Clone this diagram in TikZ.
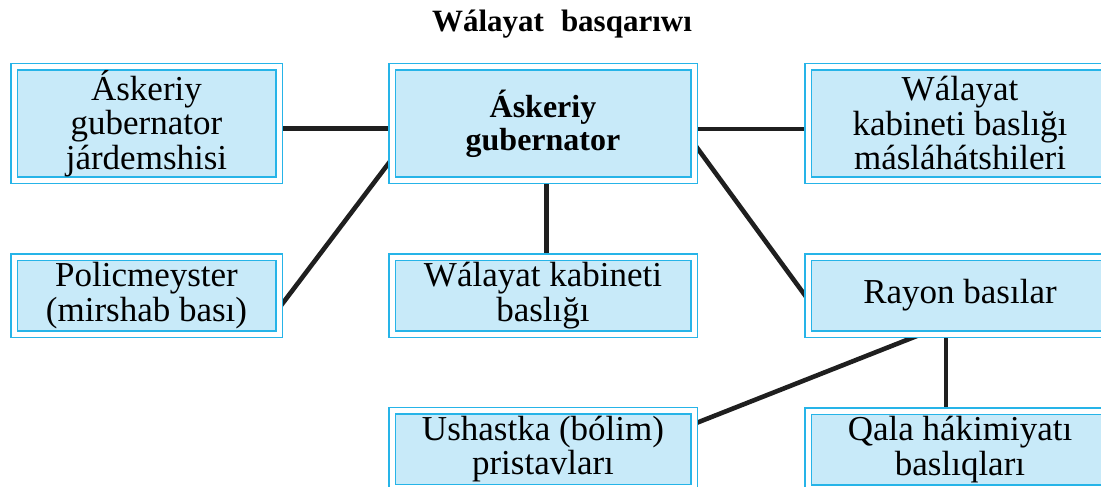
\documentclass[tikz,border=0pt]{standalone}
\usepackage{fontspec}
\setmainfont{Liberation Serif}
\usetikzlibrary{backgrounds}
\definecolor{bxline}{RGB}{38,180,232}
\definecolor{bxfill}{RGB}{200,234,249}
\begin{document}
\begin{tikzpicture}[x=1pt,y=-1pt,
  box/.style={draw=bxline, line width=1.5pt, double=white, double distance=5pt,
    fill=bxfill, inner sep=0pt, align=center,
    font=\fontsize{35}{34.5}\selectfont},
  wideA/.style={minimum width=265pt},
  wideB/.style={minimum width=302pt},
  wideC/.style={minimum width=304pt},
  tall/.style={minimum height=113pt},
  short/.style={minimum height=77pt},
  conn/.style={line width=4.6pt, draw=black!88}]
\useasboundingbox (0,0) rectangle (1101,487);
\clip (0,0) rectangle (1101,487);
\node[anchor=base, font=\bfseries\fontsize{31}{33}\selectfont] (title) at (562,32) {Wálayat\hspace{17pt}basqarıwı};
\node[box,wideA,tall] (b1) at (146.5,123.5) {Áskeriy\\gubernator\\járdemshisi};
\node[box,wideB,tall,font=\bfseries\fontsize{32}{33}\selectfont] (b2) at (543,123.5) {Áskeriy\\gubernator};
\node[box,wideC,tall] (b3) at (960,123.5) {Wálayat\\kabineti baslığı\\másláhátshileri};
\node[box,wideA,short] (b4) at (146.5,295.5) {Policmeyster\\(mirshab bası)};
\node[box,wideB,short] (b5) at (543,295.5) {Wálayat kabineti\\baslığı};
\node[box,wideC,short] (b6) at (960,295.5) {Rayon basılar};
\node[box,wideB,short] (b7) at (543,449) {Ushastka (bólim)\\pristavları};
\node[box,wideC,short] (b8) at (960,449.5) {Qala hákimiyatı\\baslıqları};
\begin{scope}[on background layer]
\draw[conn] ([yshift=-5pt]b1.east) -- ([yshift=-5pt]b2.west);
\draw[conn] ([yshift=-5.5pt]b2.east) -- ([yshift=-5.5pt]b3.west);
\draw[conn] ([yshift=-11.7pt]b4.east) -- ([yshift=-36.3pt]b2.west);
\draw[conn] ([xshift=3.5pt]b2.south) -- ([xshift=3.5pt]b5.north);
\draw[conn] ([yshift=-21.1pt]b2.east) -- ([yshift=-2.9pt]b6.west);
\draw[conn] ([xshift=-40pt]b6.south) -- ([yshift=25.4pt]b7.east);
\draw[conn] ([xshift=-14pt]b6.south) -- ([xshift=-14pt]b8.north);
\end{scope}
\end{tikzpicture}
\end{document}
